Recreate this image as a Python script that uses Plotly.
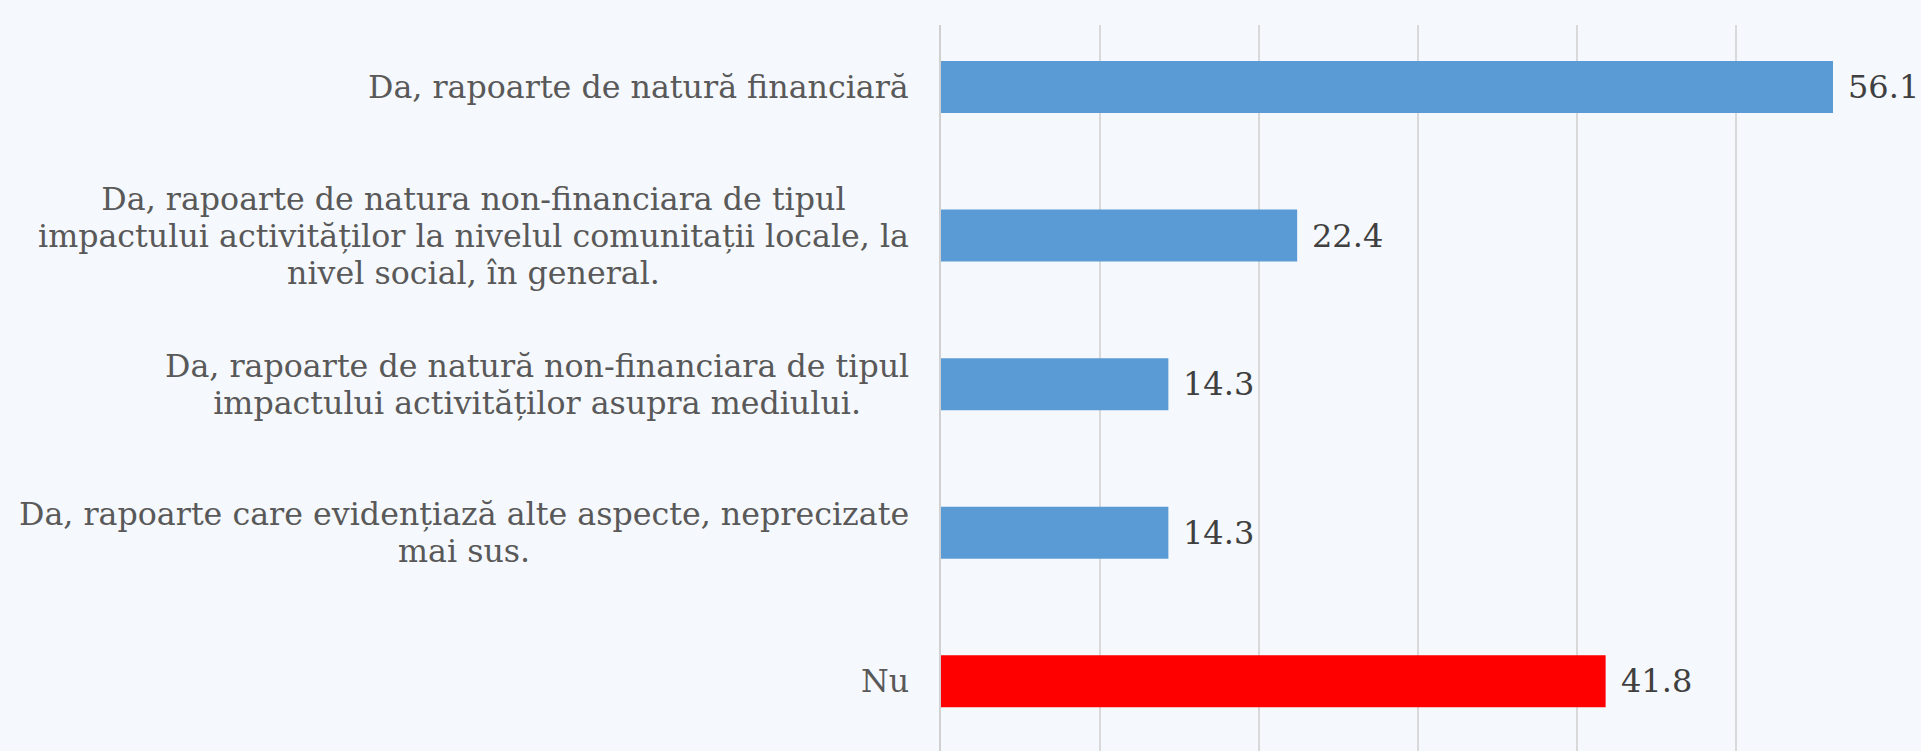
import plotly.graph_objects as go

categories = [
    "Da, rapoarte de natură financiară",
    "Da, rapoarte de natura non-financiara de tipul<br>impactului activităților la nivelul comunitații locale, la<br>nivel social, în general.",
    "Da, rapoarte de natură non-financiara de tipul<br>impactului activităților asupra mediului.",
    "Da, rapoarte care evidențiază alte aspecte, neprecizate<br>mai sus.",
    "Nu",
]
values = [56.1, 22.4, 14.3, 14.3, 41.8]
colors = ["#5B9BD5", "#5B9BD5", "#5B9BD5", "#5B9BD5", "#FF0000"]
value_labels = ["56.1", "22.4", "14.3", "14.3", "41.8"]
keys = ["c%d" % i for i in range(len(categories))]

BG = "#F5F8FC"
FONT = "DejaVu Serif"
GLYPH_SIZE = 31.7      # visible glyph size of category labels
LINE_GAP = 37          # px between wrapped lines
AXIS_X = 941           # left edge of plot area in px

fig = go.Figure()
fig.add_trace(go.Bar(
    y=keys, x=values, orientation="h",
    marker=dict(color=colors, line=dict(width=0)),
    width=0.35, hoverinfo="skip",
))

annotations = []
for k, lab in zip(keys, categories):
    lines = lab.split("<br>")
    txt = "<br>".join('<span style="font-size:%spx">%s</span>' % (GLYPH_SIZE, ln) for ln in lines)
    annotations.append(dict(
        xref="paper", yref="y", x=0, y=k, text=txt, showarrow=False,
        xanchor="right", yanchor="middle", align="center", xshift=-30,
        font=dict(family=FONT, size=LINE_GAP / 1.3, color="#595959"),
    ))
for k, v, t in zip(keys, values, value_labels):
    annotations.append(dict(
        xref="x", yref="y", x=v, y=k, text=t, showarrow=False,
        xanchor="left", yanchor="middle", xshift=13,
        font=dict(family=FONT, size=32, color="#404040"),
    ))

fig.update_layout(
    width=1921, height=751,
    paper_bgcolor=BG, plot_bgcolor=BG,
    margin=dict(l=AXIS_X, r=26, t=25, b=0),
    showlegend=False,
    annotations=annotations,
    xaxis=dict(range=[0, 60], dtick=10, showticklabels=False, showgrid=True,
               gridcolor="#D9D9D9", gridwidth=1.5, zeroline=False, showline=False, fixedrange=True),
    yaxis=dict(type="category", categoryorder="array", categoryarray=keys,
               range=[4.469, -0.417], showticklabels=False, showgrid=False,
               zeroline=False, showline=True, linecolor="#D0D0D0", linewidth=2, fixedrange=True),
)

fig.write_html(
    "out.html",
    config={"displayModeBar": False},
    post_script="document.body.style.margin='0';document.body.style.background='%s';" % BG,
)
